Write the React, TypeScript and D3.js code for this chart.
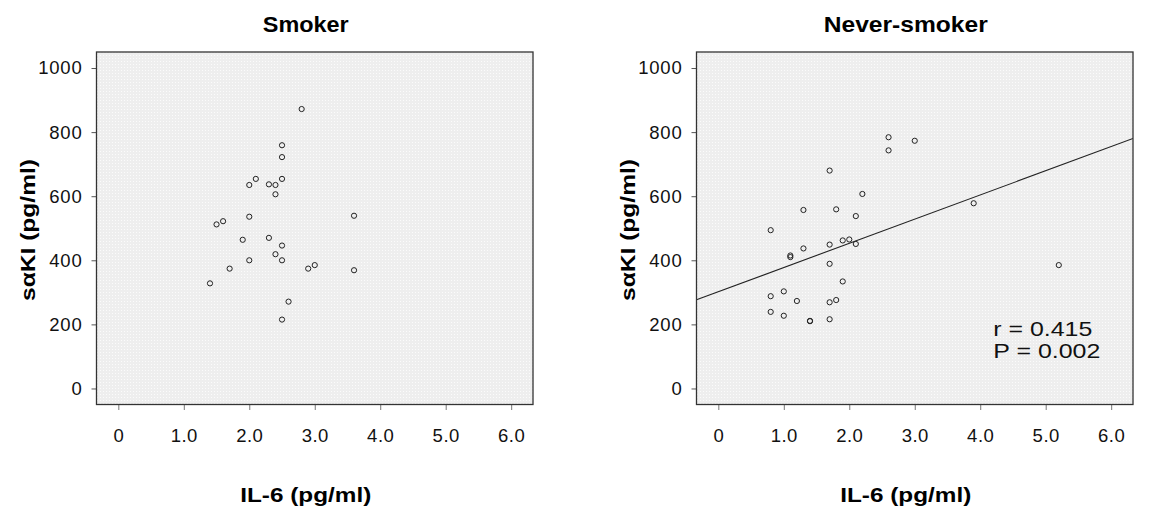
import { useEffect, useRef } from "react";
import * as d3 from "d3";

// ── Data ────────────────────────────────────────────────────────────────────
const smokerIL6 = [2.8, 2.5, 2.5, 2.1, 2.0, 2.3, 2.4, 2.5, 2.4, 2.0, 1.5, 1.6, 3.6, 1.9, 2.3, 2.5, 2.4, 2.5, 2.0, 1.7, 2.9, 3.0, 3.6, 1.4, 2.6, 2.5];
const smokerSaki = [872, 759, 722, 654, 635, 637, 635, 654, 606, 536, 512, 522, 539, 464, 470, 446, 419, 400, 400, 374, 374, 385, 369, 328, 271, 215];

const neverIL6 = [2.6, 3.0, 2.6, 1.7, 2.2, 1.3, 1.8, 2.1, 0.8, 1.9, 2.0, 2.1, 1.7, 1.3, 1.1, 1.1, 1.7, 1.9, 0.8, 1.0, 1.2, 1.7, 1.8, 0.8, 1.0, 1.4, 1.4, 1.7, 3.9, 5.2];
const neverSaki = [784, 773, 743, 680, 607, 557, 559, 538, 494, 462, 465, 451, 449, 437, 415, 410, 389, 334, 288, 303, 273, 269, 276, 239, 227, 211, 210, 216, 578, 385];

const panelTitles = ["Smoker", "Never-smoker"];
const xTicks = [0, 1, 2, 3, 4, 5, 6];
const yTicks = [0, 200, 400, 600, 800, 1000];
const xDomain = [-1 / 3, 6 + 1 / 3];
const yDomain = [-50, 1050];

// fitted line for never-smokers
const fitIntercept = 302;
const fitSlope = 75.5;
const statsText = ["r = 0.415", "P = 0.002"];

const xTitle = "IL-6 (pg/ml)";
const yTitle = "sαKI (pg/ml)";

export default function App() {
  const svgRef = useRef<SVGSVGElement>(null);

  useEffect(() => {
    document.body.style.margin = "0";
    if (!svgRef.current) return;

    const width = 1158;
    const height = 521;
    const svg = d3.select(svgRef.current);
    svg.attr("width", width).attr("height", height);
    svg.selectAll("*").remove();

    svg.append("rect").attr("width", width).attr("height", height).attr("fill", "#ffffff");

    // dotted panel background
    const defs = svg.append("defs");
    const pat = defs
      .append("pattern")
      .attr("id", "dots")
      .attr("width", 3)
      .attr("height", 3)
      .attr("patternUnits", "userSpaceOnUse");
    pat.append("rect").attr("width", 3).attr("height", 3).attr("fill", "#eeeeee");
    pat.append("rect").attr("x", 1).attr("y", 1).attr("width", 1).attr("height", 1).attr("fill", "#fbfbfb");

    const boxW = 436.5;
    const boxTop = 52;
    const boxBottom = 404.5;
    const font = "Liberation Sans, Arial, sans-serif";

    function drawPanel(
      left: number,
      title: string,
      xs: number[],
      ys: number[],
      withFit: boolean
    ) {
      const x = d3.scaleLinear().domain(xDomain).range([left, left + boxW]);
      const y = d3.scaleLinear().domain(yDomain).range([boxBottom, boxTop]);
      const g = svg.append("g");

      const clipId = `clip-${Math.round(left)}`;
      defs
        .append("clipPath")
        .attr("id", clipId)
        .append("rect")
        .attr("x", left)
        .attr("y", boxTop)
        .attr("width", boxW)
        .attr("height", boxBottom - boxTop);

      g.append("rect")
        .attr("x", left)
        .attr("y", boxTop)
        .attr("width", boxW)
        .attr("height", boxBottom - boxTop)
        .attr("fill", "url(#dots)");

      // Axes
      const xAxis = g
        .append("g")
        .attr("transform", `translate(0,${boxBottom})`)
        .call(
          d3
            .axisBottom(x)
            .tickValues(xTicks)
            .tickSize(5.5)
            .tickPadding(18.5)
            .tickFormat((d) => (d === 0 ? "0" : d3.format(".1f")(d as number)))
        );
      xAxis.select(".domain").remove();
      xAxis.selectAll(".tick line").attr("stroke", "#777");
      xAxis
        .selectAll(".tick text")
        .attr("fill", "#111")
        .attr("font-size", 18.5)
        .attr("font-family", font)
        .attr("letter-spacing", 0.5);

      const yAxis = g
        .append("g")
        .attr("transform", `translate(${left},0)`)
        .call(
          d3
            .axisLeft(y)
            .tickValues(yTicks)
            .tickSize(5)
            .tickPadding(9)
            .tickFormat(d3.format("d"))
        );
      yAxis.select(".domain").remove();
      yAxis.selectAll(".tick line").attr("stroke", "#555");
      yAxis
        .selectAll(".tick text")
        .attr("fill", "#111")
        .attr("font-size", 18.5)
        .attr("font-family", font)
        .attr("letter-spacing", 0.8);

      // Fit line
      if (withFit) {
        const line = d3
          .line<number>()
          .x((d) => x(d))
          .y((d) => y(fitIntercept + fitSlope * d));
        g.append("path")
          .datum(xDomain)
          .attr("clip-path", `url(#${clipId})`)
          .attr("fill", "none")
          .attr("stroke", "#222")
          .attr("stroke-width", 1.1)
          .attr("d", line);
      }

      // Points
      g.selectAll("circle.pt")
        .data(xs.map((xv, i) => ({ x: xv, y: ys[i] })))
        .enter()
        .append("circle")
        .attr("class", "pt")
        .attr("cx", (d) => x(d.x))
        .attr("cy", (d) => y(d.y))
        .attr("r", 2.6)
        .attr("fill", "none")
        .attr("stroke", "#222")
        .attr("stroke-width", 1);

      // Frame
      g.append("rect")
        .attr("x", left)
        .attr("y", boxTop)
        .attr("width", boxW)
        .attr("height", boxBottom - boxTop)
        .attr("fill", "none")
        .attr("stroke", "#333")
        .attr("stroke-width", 1.3);

      // Titles
      const cx = left + boxW / 2 - 9;
      g.append("text")
        .attr("x", cx)
        .attr("y", 32)
        .attr("text-anchor", "middle")
        .attr("font-family", font)
        .attr("font-weight", "bold")
        .attr("font-size", 22)
        .attr("fill", "#000")
        .attr("textLength", title.length > 7 ? 164 : 86)
        .attr("lengthAdjust", "spacingAndGlyphs")
        .text(title);

      g.append("text")
        .attr("x", cx)
        .attr("y", 502)
        .attr("text-anchor", "middle")
        .attr("font-family", font)
        .attr("font-weight", "bold")
        .attr("font-size", 21)
        .attr("fill", "#000")
        .attr("textLength", 131)
        .attr("lengthAdjust", "spacingAndGlyphs")
        .text(xTitle);

      g.append("text")
        .attr("transform", `translate(${left - 62},230) rotate(-90)`)
        .attr("text-anchor", "middle")
        .attr("font-family", font)
        .attr("font-weight", "bold")
        .attr("font-size", 21)
        .attr("fill", "#000")
        .attr("textLength", 142)
        .attr("lengthAdjust", "spacingAndGlyphs")
        .text(yTitle);

      return { x, y };
    }

    drawPanel(96.5, panelTitles[0], smokerIL6, smokerSaki, false);
    const right = drawPanel(696.5, panelTitles[1], neverIL6, neverSaki, true);

    // r / P annotation
    statsText.forEach((s, i) => {
      svg
        .append("text")
        .attr("x", right.x(4.2))
        .attr("y", 336 + i * 22)
        .attr("font-family", font)
        .attr("font-size", 21)
        .attr("fill", "#111")
        .attr("textLength", i === 0 ? 99 : 107)
        .attr("lengthAdjust", "spacingAndGlyphs")
        .text(s);
    });
  }, []);

  return <svg ref={svgRef} style={{ display: "block" }} />;
}
